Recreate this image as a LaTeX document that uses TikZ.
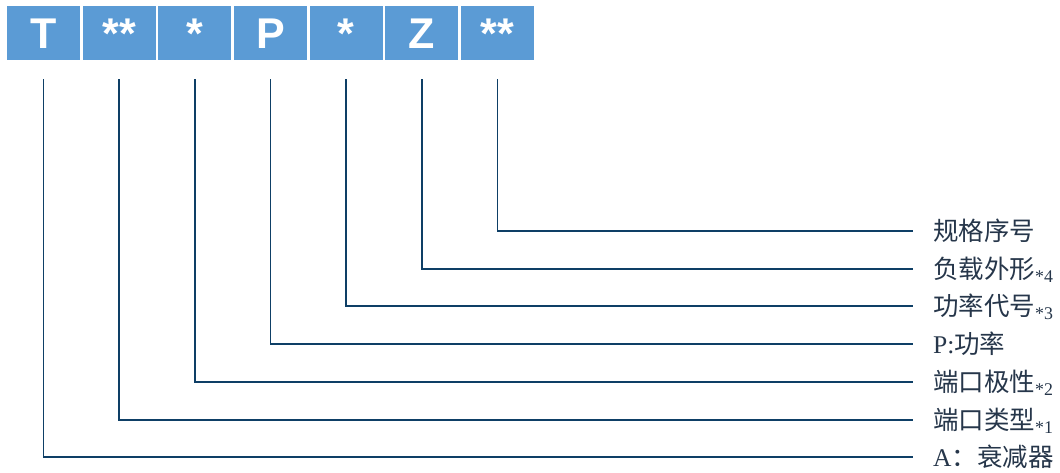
\documentclass[tikz,border=0pt]{standalone}
\usepackage{fontspec}
\setmainfont{Liberation Serif}
\setsansfont{Liberation Sans}
\newfontfamily\cjk{Noto Sans CJK SC}
\usepackage{tikz}
\usetikzlibrary{positioning}
\definecolor{codeBlue}{HTML}{5B9BD5}
\definecolor{leadNavy}{HTML}{0E3F66}
\definecolor{labelInk}{HTML}{26364A}

\begin{document}
\begin{tikzpicture}[
        x=1pt, y=-1pt,
        % one box per character of the type code
        code/.style ={fill=codeBlue, text=white, inner sep=0pt, minimum width=73pt,
                minimum height=54pt, font=\sffamily\bfseries\fontsize{43}{43}\selectfont,
                text height=31pt, text depth=0pt},
        % meaning of each field, centred on its lead line
        lbl/.style  ={anchor=west, inner sep=0pt, text=labelInk, text height=19.2pt, text depth=0pt,
                font=\fontsize{25.5}{25.5}\selectfont},
        lead/.style ={draw=leadNavy, line width=1.6pt, shorten <=19pt, shorten >=20pt}
    ]
    \useasboundingbox (0,0) rectangle (1060,472);

    \node[code] (t)    at (43.5,33)  {T};
    \node[code] (port) at (119.2,33) {**};
    \node[code] (pol)  at (194.8,33) {*};
    \node[code] (p)    at (270.5,33) {P};
    \node[code] (pwr)  at (346.2,33) {*};
    \node[code] (z)    at (421.8,33) {Z};
    \node[code] (seq)  at (497.5,33) {**};

    \node[lbl] (seqL)  at (933,231) {\cjk 规格序号};
    \node[lbl] (zL)    at (933,269) {\cjk 负载外形\textsubscript{\rmfamily *4}};
    \node[lbl] (pwrL)  at (933,306) {\cjk 功率代号\textsubscript{\rmfamily *3}};
    \node[lbl] (pL)    at (933,344) {P:{\cjk 功率}};
    \node[lbl] (polL)  at (933,382) {\cjk 端口极性\textsubscript{\rmfamily *2}};
    \node[lbl] (portL) at (933,420) {\cjk 端口类型\textsubscript{\rmfamily *1}};
    \node[lbl] (tL)    at (933,457) {A{\cjk ：衰减器}};

    \draw[lead] (seq)  |- (seqL.west);
    \draw[lead] (z)    |- (zL.west);
    \draw[lead] (pwr)  |- (pwrL.west);
    \draw[lead] (p)    |- (pL.west);
    \draw[lead] (pol)  |- (polL.west);
    \draw[lead] (port) |- (portL.west);
    \draw[lead] (t)    |- (tL.west);

\end{tikzpicture}
\end{document}
